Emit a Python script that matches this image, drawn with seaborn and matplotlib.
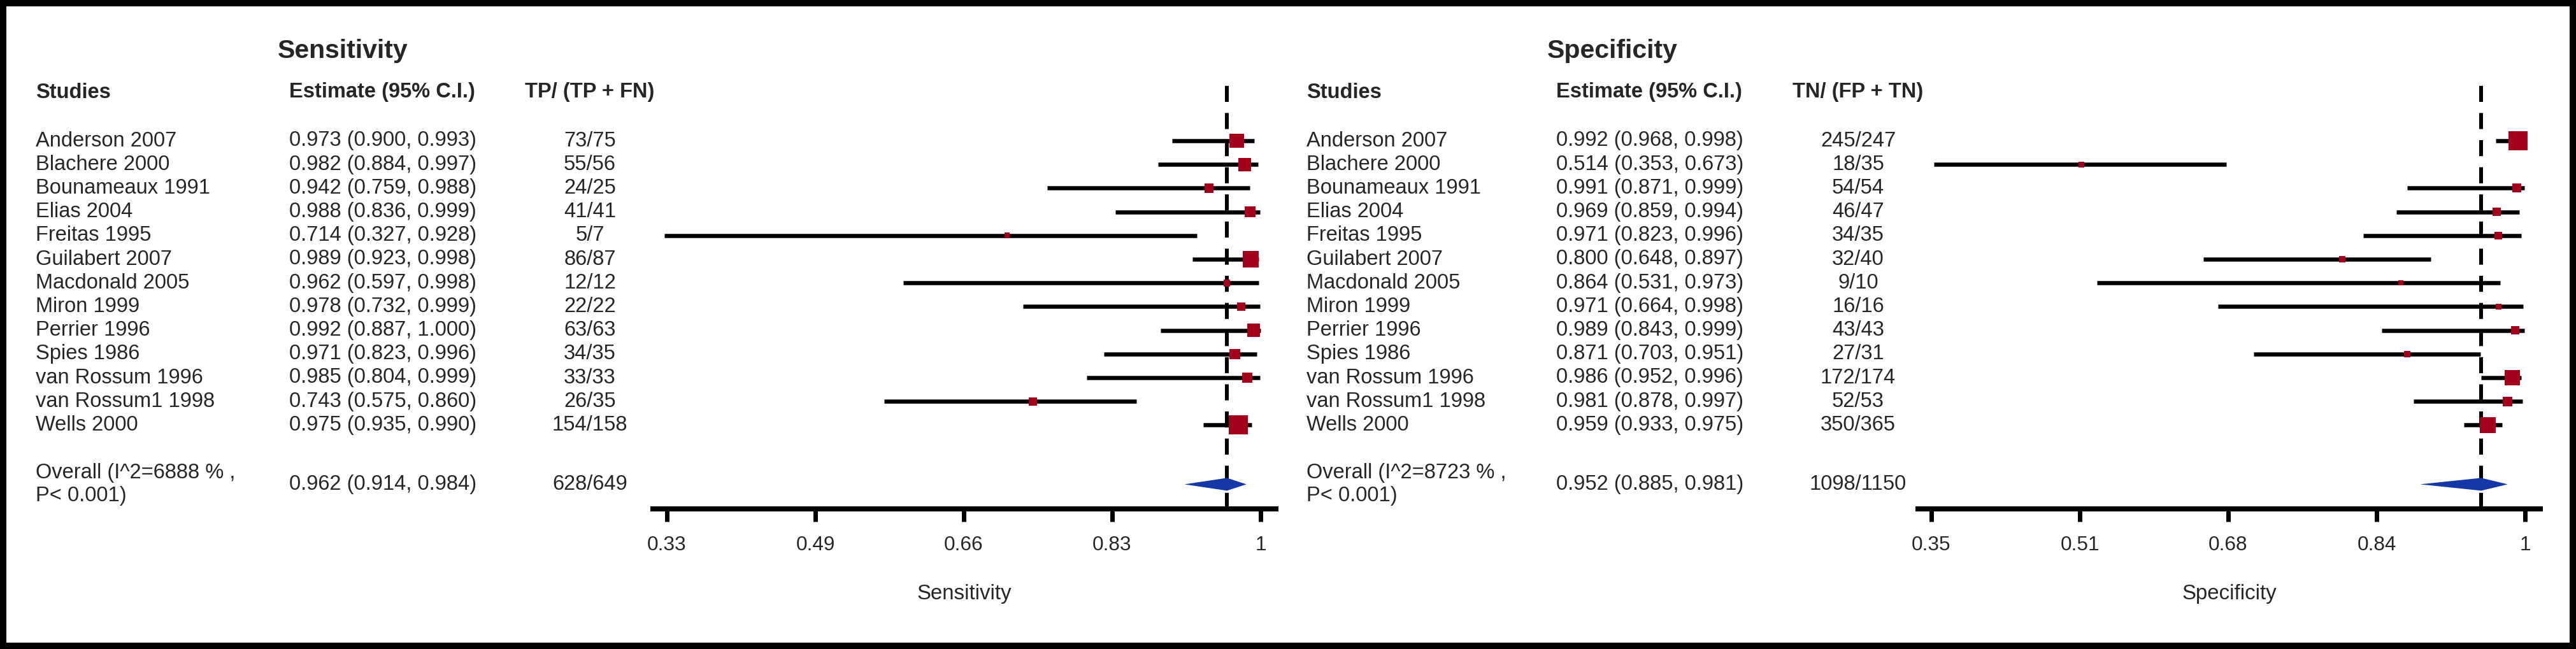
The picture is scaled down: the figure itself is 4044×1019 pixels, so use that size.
import matplotlib
matplotlib.use("Agg")
import matplotlib.pyplot as plt
import matplotlib.transforms as mtransforms
from matplotlib import font_manager
from matplotlib.patches import Rectangle
import numpy as np
import pandas as pd
import seaborn as sns

# data
studies = ["Anderson 2007", "Blachere 2000", "Bounameaux 1991", "Elias 2004",
           "Freitas 1995", "Guilabert 2007", "Macdonald 2005", "Miron 1999",
           "Perrier 1996", "Spies 1986", "van Rossum 1996", "van Rossum1 1998",
           "Wells 2000"]

sens_est = [0.973, 0.982, 0.942, 0.988, 0.714, 0.989, 0.962, 0.978, 0.992, 0.971, 0.985, 0.743, 0.975]
sens_lo = [0.900, 0.884, 0.759, 0.836, 0.327, 0.923, 0.597, 0.732, 0.887, 0.823, 0.804, 0.575, 0.935]
sens_hi = [0.993, 0.997, 0.988, 0.999, 0.928, 0.998, 0.998, 0.999, 1.000, 0.996, 0.999, 0.860, 0.990]
sens_tp = [73, 55, 24, 41, 5, 86, 12, 22, 63, 34, 33, 26, 154]
sens_n = [75, 56, 25, 41, 7, 87, 12, 22, 63, 35, 33, 35, 158]
sens_overall = (0.962, 0.914, 0.984)
sens_i2 = "6888"
sens_ticks = ["0.33", "0.49", "0.66", "0.83", "1"]

spec_est = [0.992, 0.514, 0.991, 0.969, 0.971, 0.800, 0.864, 0.971, 0.989, 0.871, 0.986, 0.981, 0.959]
spec_lo = [0.968, 0.353, 0.871, 0.859, 0.823, 0.648, 0.531, 0.664, 0.843, 0.703, 0.952, 0.878, 0.933]
spec_hi = [0.998, 0.673, 0.999, 0.994, 0.996, 0.897, 0.973, 0.998, 0.999, 0.951, 0.996, 0.997, 0.975]
spec_tn = [245, 18, 54, 46, 34, 32, 9, 16, 43, 27, 172, 52, 350]
spec_n = [247, 35, 54, 47, 35, 40, 10, 16, 43, 31, 174, 53, 365]
spec_overall = (0.952, 0.885, 0.981)
spec_i2 = "8723"
spec_ticks = ["0.35", "0.51", "0.68", "0.84", "1"]

W, H = 4044, 1019
DPI = 100
PT = 72 / DPI  # points per pixel

RED = "#A3001C"
BLUE = "#1637A6"

sns.set_theme(style="white")
plt.rcParams["font.family"] = ["Liberation Sans", "DejaVu Sans"]

names = {f.name for f in font_manager.fontManager.ttflist}
if "Liberation Sans Narrow" in names:
    label_font, label_size = "Liberation Sans Narrow", 40 * PT
else:
    label_font, label_size = "Liberation Sans", 33 * PT

fig = plt.figure(figsize=(W / DPI, H / DPI), dpi=DPI)
fig.patch.set_facecolor("white")

ROW0, STEP = 221, 37.2       # pixel y of first study row, row spacing
AX_TOP, AX_BOT = 128, 799     # pixel y of axes top / axis line
FS = 32.6 * PT


def panel(title, xlab, est, lo, hi, k, n, overall, i2, ticks, cnt_head,
          ax_px, tick_px, col_px, title_px):
    df = pd.DataFrame({"study": studies, "est": est, "lo": lo, "hi": hi,
                       "k": k, "n": n})
    df["row"] = np.arange(len(df))
    over_row = len(df) + 1.5

    # box side from CI width (precision weight)
    w = 1 / (df["hi"] - df["lo"]) ** 2
    side = 30 * (w / w.max()) ** 0.26
    df["s"] = (side * PT) ** 2

    a0, a1 = ax_px
    ax = fig.add_axes([a0 / W, 1 - AX_BOT / H, (a1 - a0) / W, (AX_BOT - AX_TOP) / H])
    tpos = np.linspace(float(ticks[0]), float(ticks[-1]), len(ticks))
    scale = (tpos[-1] - tpos[0]) / (tick_px[1] - tick_px[0])
    ax.set_xlim(tpos[0] - (tick_px[0] - a0) * scale, tpos[-1] + (a1 - tick_px[1]) * scale)
    ax.set_ylim((AX_BOT - ROW0) / STEP, (AX_TOP - ROW0) / STEP)

    ax.hlines(df["row"], df["lo"], df["hi"], color="black", lw=6.5 * PT, zorder=2)
    sns.scatterplot(data=df, x="est", y="row", s=df["s"], marker="s", color=RED,
                    edgecolor=RED, linewidth=0, ax=ax, zorder=3, legend=False)
    oe, ol, oh = overall
    hh = 10 / STEP
    ax.fill([ol, oe, oh, oe], [over_row, over_row - hh, over_row, over_row + hh],
            color=BLUE, lw=0, zorder=3)
    ax.axvline(oe, color="black", lw=6 * PT, dashes=(4.2, 2.9), zorder=1)

    for sp in ["top", "left", "right"]:
        ax.spines[sp].set_visible(False)
    ax.spines["bottom"].set_linewidth(8 * PT)
    ax.spines["bottom"].set_color("black")
    ax.set_yticks([])
    ax.set_ylabel("")
    ax.set_xticks(tpos)
    ax.set_xticklabels(ticks)
    ax.tick_params(axis="x", length=20 * PT, width=7 * PT, color="black",
                   direction="out", pad=22 * PT, labelsize=31.5 * PT, bottom=True)
    ax.set_xlabel(xlab, family=label_font, fontsize=label_size)
    ax.xaxis.set_label_coords(0.5, (AX_BOT - 933) / (AX_BOT - AX_TOP))
    ax.xaxis.label.set_va("center")
    ax.set_facecolor("none")

    tr = mtransforms.blended_transform_factory(fig.transFigure, ax.transData)
    x_name, x_est, x_cnt = [c / W for c in col_px]
    ax.text(title_px / W, (80 - ROW0) / STEP, title, transform=tr, fontsize=41 * PT,
            fontweight="bold", va="center", ha="left")
    hrow = (145 - ROW0) / STEP
    ax.text(x_name, hrow, "Studies", transform=tr, fontsize=FS, fontweight="bold", va="center")
    ax.text(x_est, hrow, "Estimate (95% C.I.)", transform=tr, fontsize=FS,
            fontweight="bold", va="center")
    ax.text(x_cnt, hrow, cnt_head, transform=tr, fontsize=FS, fontweight="bold",
            va="center", ha="center")
    for r in df.itertuples():
        ax.text(x_name, r.row, r.study, transform=tr, fontsize=FS, va="center")
        ax.text(x_est, r.row, f"{r.est:.3f} ({r.lo:.3f}, {r.hi:.3f})", transform=tr,
                fontsize=FS, va="center")
        ax.text(x_cnt, r.row, f"{r.k}/{r.n}", transform=tr, fontsize=FS,
                va="center", ha="center")
    ax.text(x_name, over_row, f"Overall (I^2={i2} % ,\nP< 0.001)", transform=tr,
            fontsize=FS, va="center", linespacing=1.2)
    ax.text(x_est, over_row, f"{oe:.3f} ({ol:.3f}, {oh:.3f})", transform=tr,
            fontsize=FS, va="center")
    ax.text(x_cnt, over_row, f"{df['k'].sum()}/{df['n'].sum()}", transform=tr,
            fontsize=FS, va="center", ha="center")
    return ax


panel("Sensitivity", "Sensitivity", sens_est, sens_lo, sens_hi, sens_tp, sens_n,
      sens_overall, sens_i2, sens_ticks, "TP/ (TP + FN)",
      (1025, 2003), (1047, 1979), (56, 454, 926), 436)
panel("Specificity", "Specificity", spec_est, spec_lo, spec_hi, spec_tn, spec_n,
      spec_overall, spec_i2, spec_ticks, "TN/ (FP + TN)",
      (3011, 3988), (3032, 3964), (2051, 2443, 2917), 2429)

# black frame round the picture
fig.patches.append(Rectangle((0, 0), 1, 1, transform=fig.transFigure, fill=False,
                             edgecolor="black", linewidth=20 * PT, zorder=10))

fig.savefig("out.png", dpi=DPI)
